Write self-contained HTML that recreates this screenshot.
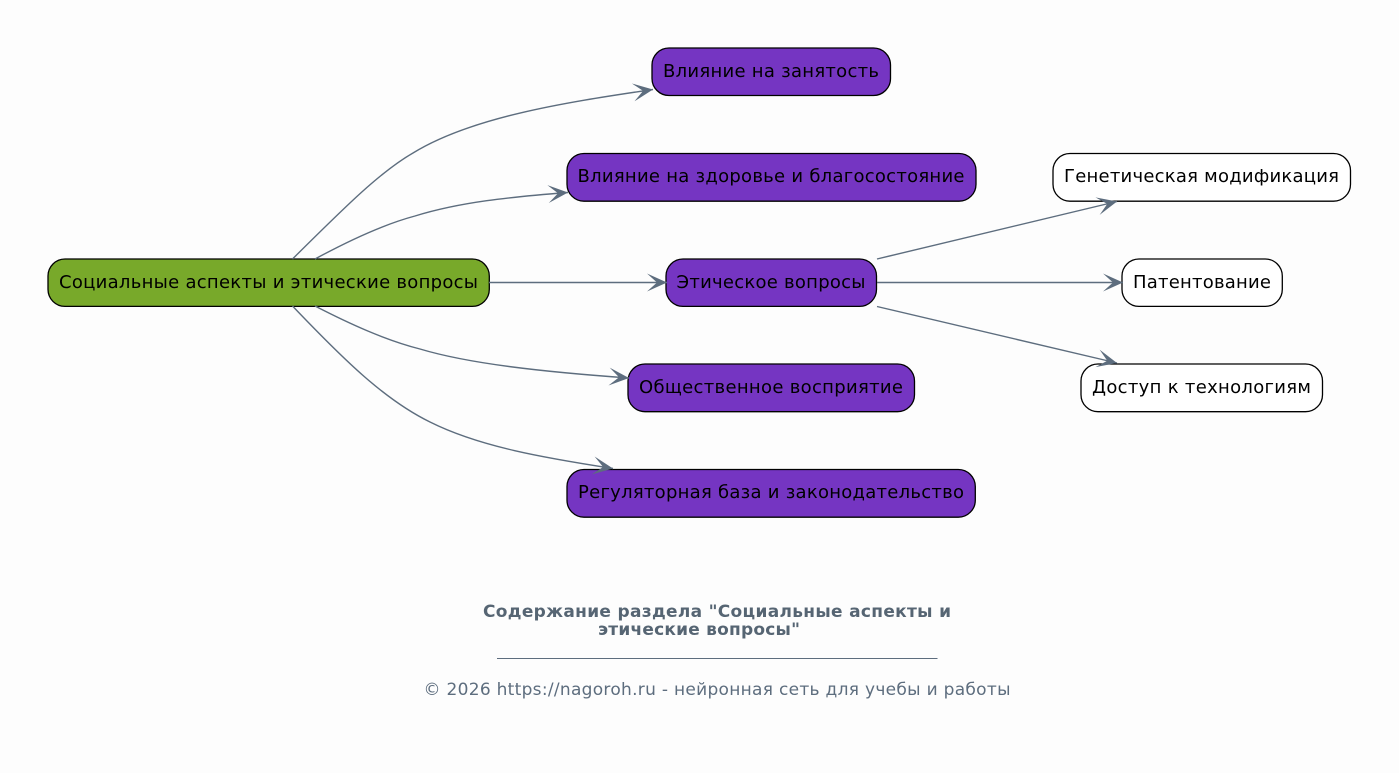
<!DOCTYPE html>
<html lang="ru">
<head>
<meta charset="utf-8">
<style>
html,body{margin:0;padding:0;background:#fdfdfd;}
svg{display:block;font-family:"DejaVu Sans",sans-serif;}
.n{stroke:#000;stroke-width:1.3;}
.t{font-size:18px;fill:#000;text-anchor:middle;}
.e{fill:none;stroke:#5d6d7e;stroke-width:1.4;}
</style>
</head>
<body>
<svg width="1399" height="773" viewBox="0 0 1399 773" xmlns="http://www.w3.org/2000/svg">
<defs>
<marker id="a" markerUnits="userSpaceOnUse" markerWidth="24" markerHeight="24" refX="20" refY="12" orient="auto">
<path d="M20,12 L0,3 L10,12 L0,21 Z" fill="#5d6d7e"/>
</marker>
</defs>
<rect width="1399" height="773" fill="#fdfdfd"/>

<rect class="n" x="48" y="259" width="441.300" height="47.400" rx="17" fill="#78a92a"/>
<text class="t" x="268.500" y="288" textLength="419">Социальные аспекты и этические вопросы</text>

<rect class="n" x="652" y="48" width="238.500" height="47.500" rx="17" fill="#7535c2"/>
<text class="t" x="771" y="77" textLength="216">Влияние на занятость</text>

<rect class="n" x="567" y="153.500" width="409" height="47.700" rx="17" fill="#7535c2"/>
<text class="t" x="771" y="182" textLength="387">Влияние на здоровье и благосостояние</text>

<rect class="n" x="666" y="259" width="210.500" height="47.400" rx="17" fill="#7535c2"/>
<text class="t" x="771" y="288" textLength="189">Этическое вопросы</text>

<rect class="n" x="628" y="364" width="286.500" height="47.700" rx="17" fill="#7535c2"/>
<text class="t" x="771" y="393" textLength="264">Общественное восприятие</text>

<rect class="n" x="567" y="469.500" width="408.300" height="47.700" rx="17" fill="#7535c2"/>
<text class="t" x="771" y="498" textLength="386">Регуляторная база и законодательство</text>

<rect class="n" x="1053" y="153.500" width="297.500" height="47.700" rx="17" fill="#fff"/>
<text class="t" x="1201.500" y="182" textLength="275">Генетическая модификация</text>

<rect class="n" x="1122" y="259" width="160.300" height="47.400" rx="17" fill="#fff"/>
<text class="t" x="1202" y="288" textLength="138">Патентование</text>

<rect class="n" x="1081" y="364" width="241.500" height="47.700" rx="17" fill="#fff"/>
<text class="t" x="1201.500" y="393" textLength="219">Доступ к технологиям</text>

<path class="e" marker-end="url(#a)" d="M292.500,259 C345,207 380,172 413,153 C470,118 560,103 653,89.500"/>
<path class="e" marker-end="url(#a)" d="M315,259 C350,240 385,224 415,216 C460,202 510,197 568,192.500"/>
<path class="e" marker-end="url(#a)" d="M489,282.500 L667,282.500"/>
<path class="e" marker-end="url(#a)" d="M315,306 C350,324 385,340 420,349 C470,364 545,372 629,378"/>
<path class="e" marker-end="url(#a)" d="M292.500,306 C345,361 385,400 430,422 C480,447 545,458 613,468.500"/>
<path class="e" marker-end="url(#a)" d="M877,259 L1117,201.500"/>
<path class="e" marker-end="url(#a)" d="M877,282.500 L1123,282.500"/>
<path class="e" marker-end="url(#a)" d="M877,306.500 L1117,363"/>

<text x="717" y="617" text-anchor="middle" font-size="17" font-weight="bold" fill="#566573" textLength="468">Содержание раздела "Социальные аспекты и</text>
<text x="699" y="635" text-anchor="middle" font-size="17" font-weight="bold" fill="#566573" textLength="202">этические вопросы"</text>
<rect x="497" y="658" width="440.500" height="1" fill="#5d6d7e"/>
<text x="717" y="695" text-anchor="middle" font-size="17" fill="#5d6d7e" textLength="587">© 2026 https://nagoroh.ru - нейронная сеть для учебы и работы</text>
</svg>
</body>
</html>
